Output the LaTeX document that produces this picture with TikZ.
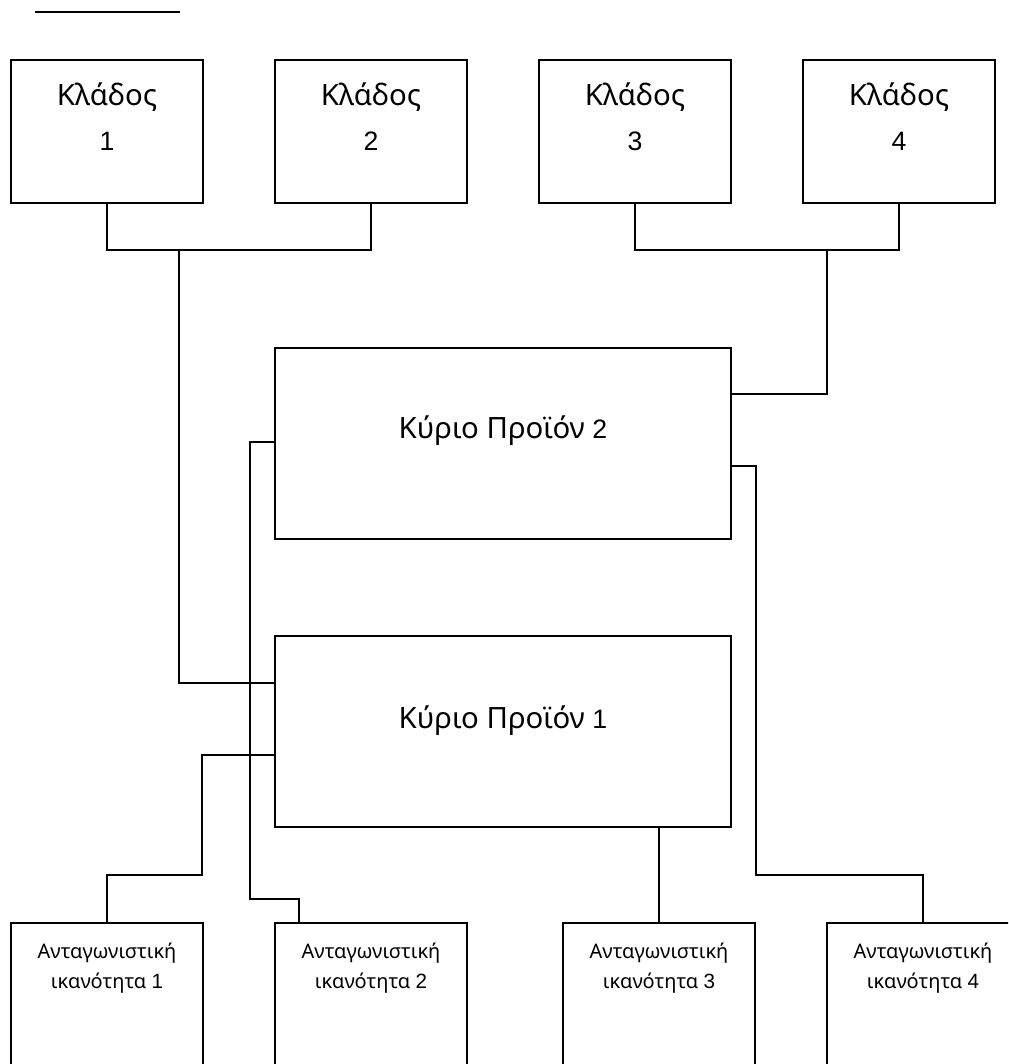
\documentclass[tikz,border=0pt]{standalone}
\usepackage{fontspec}
\setmainfont{Noto Sans}
\newfontfamily\digitfont{Liberation Sans}
\usetikzlibrary{calc}
\begin{document}
\begin{tikzpicture}[x=0.75pt,y=-0.75pt,
  line width=1.5pt,
  box/.style={draw=black, line width=1.5pt, inner sep=0pt, rectangle},
  branchbox/.style={box, minimum width=144pt, minimum height=107.25pt},
  productbox/.style={box, minimum width=342pt, minimum height=143.25pt},
  skillbox/.style={box, minimum width=144pt, minimum height=144pt},
  bigtext/.style={anchor=base, inner sep=0pt, font=\fontsize{22}{26}\selectfont},
  smalltext/.style={anchor=base, inner sep=0pt, font=\fontsize{15}{18}\selectfont},
  wire/.style={draw=black, line width=1.5pt}
]
\useasboundingbox (0,0) rectangle (1008,1064);
\clip (0,0) rectangle (1008,1064);

% short rule at the top
\coordinate (ruleL) at (35,12);
\coordinate (ruleR) at (180,12);
\draw[wire] (ruleL) -- (ruleR);

% branch boxes
\node[branchbox] (t1) at (107,131) {};
\node[branchbox] (t2) at (371,131) {};
\node[branchbox] (t3) at (635,131) {};
\node[branchbox] (t4) at (899,131) {};
\foreach \n/\x in {1/107,2/371,3/635,4/899}{
  \node[bigtext] (t\n name) at (\x,105) {Κλάδος};
  \node[bigtext] (t\n num) at (\x,150) {\fontsize{20}{24}\selectfont\digitfont \n};
}

% main product boxes
\node[productbox] (p2) at (503,443.5) {};
\node[productbox] (p1) at (503,731.5) {};
\node[bigtext] (p2name) at (503,438) {Κύριο Προϊόν {\fontsize{20}{24}\selectfont\digitfont 2}};
\node[bigtext] (p1name) at (503,728) {Κύριο Προϊόν {\fontsize{20}{24}\selectfont\digitfont 1}};

% competence boxes (running past the lower edge)
\node[skillbox] (b1) at (107,1019) {};
\node[skillbox] (b2) at (371,1019) {};
\node[skillbox] (b3) at (659,1019) {};
\node[skillbox] (b4) at (923,1019) {};
\foreach \n/\x in {1/107,2/371,3/659,4/923}{
  \node[smalltext] (b\n a) at (\x,958) {Ανταγωνιστική};
  \node[smalltext] (b\n b) at (\x,988) {ικανότητα {\fontsize{15.5}{18}\selectfont\digitfont \n}};
}

% bus points and bends
\coordinate (bus12) at (179,250);
\coordinate (bus34) at (827,250);

% branches 1 and 2
\draw[wire] (t1.south) |- (bus12) -| (t2.south);
\draw[wire] (bus12) |- ($(p1.north west)+(0,48)$);
% branches 3 and 4
\draw[wire] (t3.south) |- (bus34) -| (t4.south);
\draw[wire] (bus34) |- ($(p2.north east)+(0,47)$);

% product 2 to competences 2 and 4
\draw[wire] ($(p2.north west)+(0,95)$) -- ++(-24,0) |- ($(b2.north)+(-72,-23)$) -| ($(b2.north)+(-72,0)$);
\draw[wire] ($(p2.north east)+(0,119)$) -- ++(24,0) |- ($(b4.north)+(0,-47)$) -- (b4.north);

% product 1 to competences 1 and 3
\draw[wire] ($(p1.north west)+(0,120)$) -- ++(-72,0) |- ($(b1.north)+(0,-47)$) -- (b1.north);
\draw[wire] (p1.south -| b3.north) -- (b3.north);
\end{tikzpicture}
\end{document}
